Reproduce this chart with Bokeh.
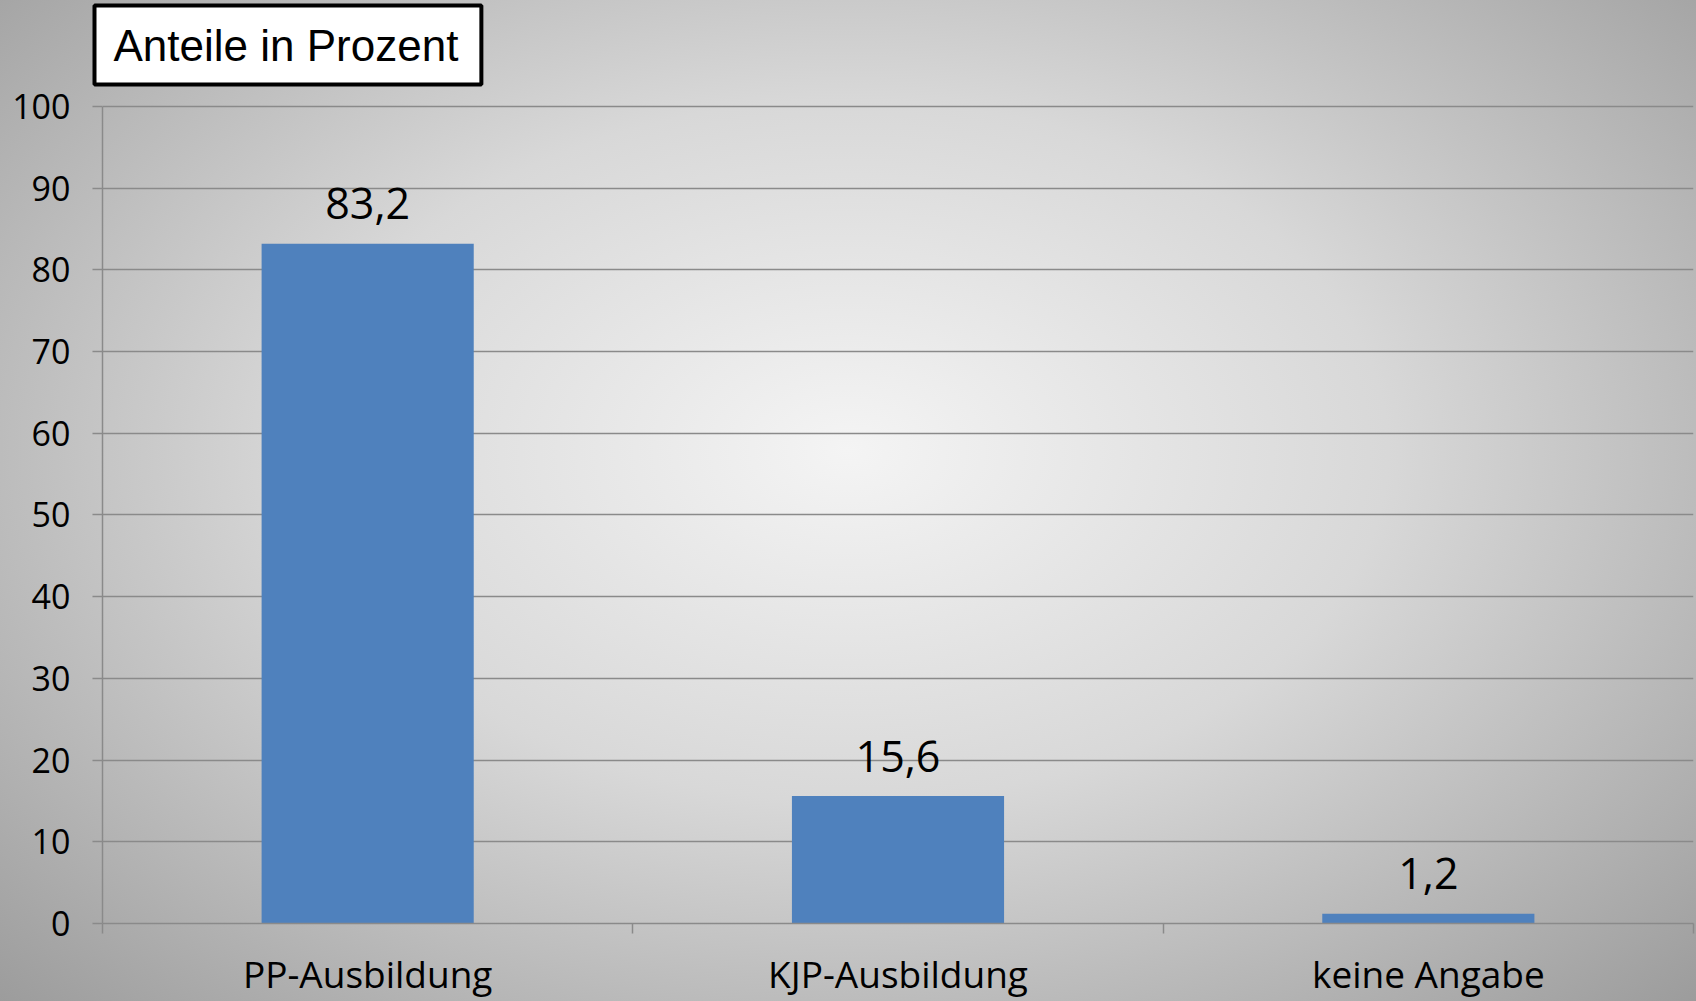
from bokeh.plotting import figure
from bokeh.models import FixedTicker, ColumnDataSource
from bokeh.core.properties import value
from bokeh.embed import file_html
from bokeh.resources import INLINE

categories = ["PP-Ausbildung", "KJP-Ausbildung", "keine Angabe"]
values = [83.2, 15.6, 1.2]
y_ticks = [0, 10, 20, 30, 40, 50, 60, 70, 80, 90, 100]
title_text = "Anteile in Prozent"

centers = [i + 0.5 for i in range(len(categories))]
labels = [f"{v:.1f}".replace(".", ",") for v in values]
src = ColumnDataSource(dict(x=centers, top=values, lab=labels))

p = figure(width=1696, height=1001, x_range=(0, len(categories)), y_range=(0, 102.57),
           output_backend="svg", toolbar_location=None,
           min_border_left=102, min_border_right=3, min_border_top=85, min_border_bottom=78)
p.styles = {"background": "radial-gradient(ellipse farthest-corner at 50% 45%, #f4f4f4 0%, #d8d8d8 45%, #9c9c9c 100%)"}
p.background_fill_color = None
p.border_fill_color = None
p.outline_line_color = None

p.vbar(x="x", top="top", width=0.4, source=src, fill_color="#4F81BD", line_color=None)
p.text(x="x", y="top", text="lab", source=src, text_align="center", text_baseline="middle",
       y_offset=-40, text_font=value("Open Sans"), text_font_size="43px", text_color="black")

# title box
p.title.text = title_text
p.title.align = "left"
p.title.vertical_align = "middle"
p.title.offset = -8
p.title.standoff = 0
p.title.text_font = "Liberation Sans"
p.title.text_font_size = "44px"
p.title.text_font_style = "normal"
p.title.text_color = "black"
p.title.background_fill_color = "white"
p.title.border_line_color = "black"
p.title.border_line_width = 4
p.title.padding = dict(left=19, right=23, top=15, bottom=15)

# axes
ya = p.yaxis[0]
ya.ticker = FixedTicker(ticks=y_ticks)
ya.bounds = (0, 100)
ya.axis_line_color = "#8a8a8a"
ya.axis_line_width = 1.5
ya.major_tick_line_color = "#8a8a8a"
ya.major_tick_line_width = 1.5
ya.major_tick_out = 10
ya.major_tick_in = 0
ya.minor_tick_line_color = None
ya.major_label_standoff = 22
ya.major_label_text_font = "Open Sans"
ya.major_label_text_font_size = "34px"
ya.major_label_text_color = "black"

xa = p.xaxis[0]
xa.ticker = FixedTicker(ticks=centers, minor_ticks=list(range(len(categories) + 1)))
xa.major_label_overrides = {c: n for c, n in zip(centers, categories)}
xa.axis_line_color = "#8a8a8a"
xa.axis_line_width = 1.5
xa.major_tick_line_color = None
xa.major_tick_out = 0
xa.minor_tick_line_color = "#8a8a8a"
xa.minor_tick_line_width = 1.5
xa.minor_tick_out = 10
xa.minor_tick_in = 0
xa.major_label_standoff = 14
xa.major_label_text_line_height = 0.9
xa.major_label_text_font = "Open Sans"
xa.major_label_text_font_size = "37px"
xa.major_label_text_color = "black"

p.xgrid.grid_line_color = None
p.ygrid.ticker = FixedTicker(ticks=y_ticks)
p.ygrid.grid_line_color = "#8a8a8a"
p.ygrid.grid_line_width = 1.5

open("out.html", "w").write(file_html(p, INLINE))
